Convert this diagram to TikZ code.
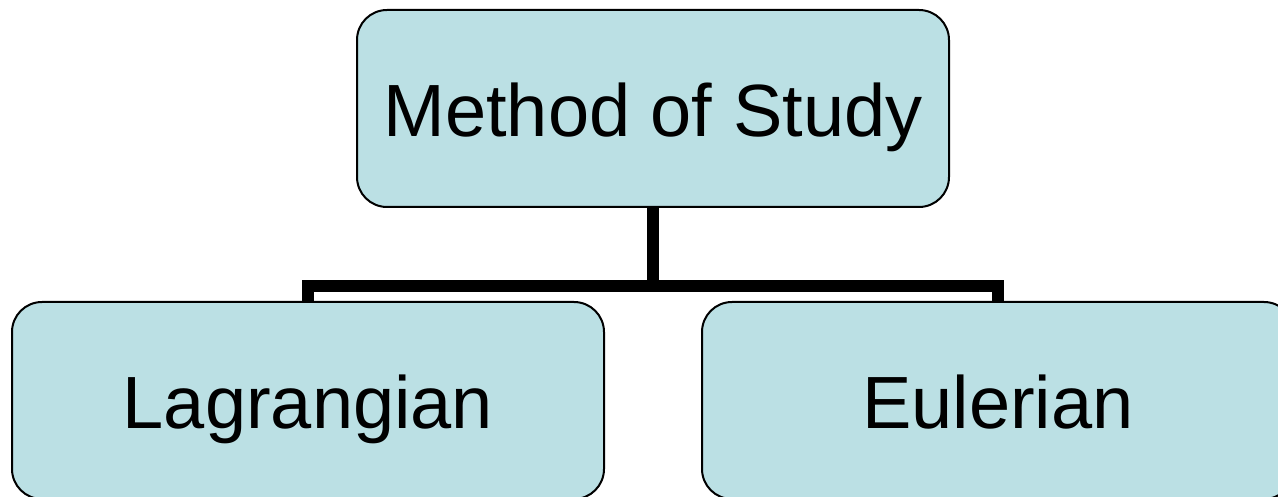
\documentclass[tikz,border=0pt]{standalone}
\usepackage{fontspec}
\setmainfont{Liberation Sans}
\definecolor{boxfill}{RGB}{187,224,228}
\begin{document}
\begin{tikzpicture}[x=1pt,y=1pt,
  box/.style={draw=black, line width=2pt, fill=boxfill, rounded corners=30pt,
    minimum width=592pt, minimum height=197pt, inner sep=0pt,
    text height=62pt, text depth=6pt,
    font=\fontsize{74}{80}\selectfont},
  conn/.style={line width=12pt, line join=miter}]
\clip (0,0) rectangle (1278,-497);
\fill[white] (0,0) rectangle (1278,-497);
\node[box] (top) at (653,-108.5) {Method of Study};
\node[box] (left) at (308,-400.5) {Lagrangian};
\node[box] (right) at (998,-400.5) {Eulerian};
\coordinate (bus) at (653,-286);
\draw[conn] (top.south) -- (bus);
\draw[conn] (left.north) |- (bus) -| (right.north);
\end{tikzpicture}
\end{document}
